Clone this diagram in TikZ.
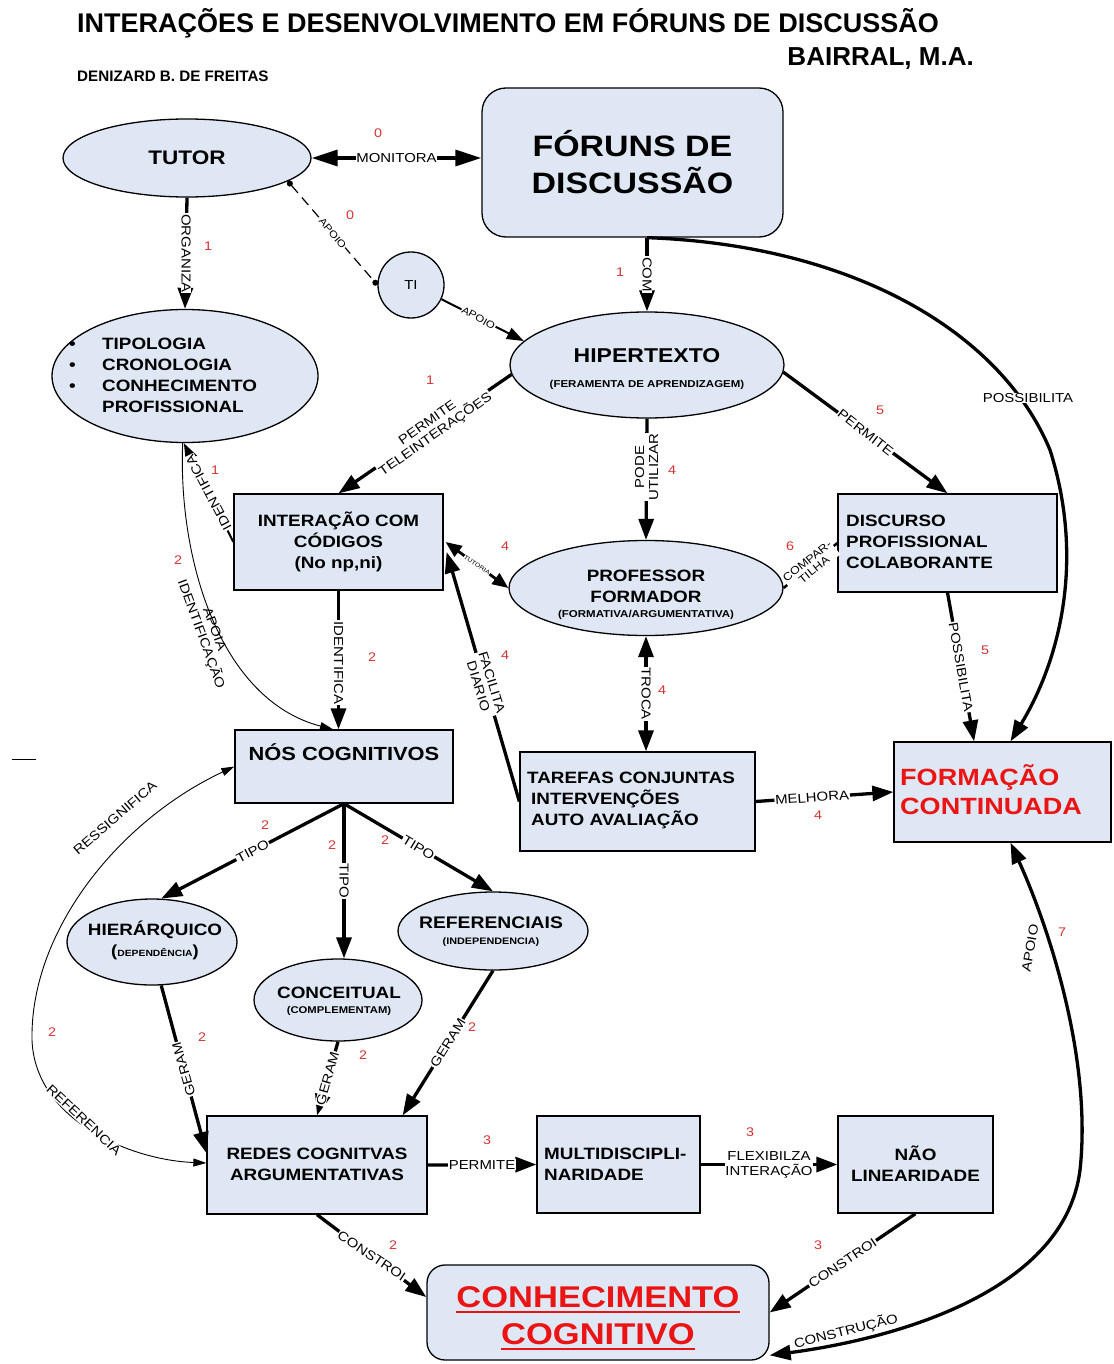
\documentclass[tikz,border=0pt]{standalone}
\usepackage{fontspec}
\setmainfont{Liberation Sans}[FakeStretch=1.15]
\newfontfamily\ttlfont{Liberation Sans}
\usetikzlibrary{arrows.meta,shapes.geometric,calc}
\definecolor{nfill}{RGB}{222,231,243}
\definecolor{numred}{RGB}{214,52,52}
\definecolor{bigred}{RGB}{235,20,20}
\newcommand\myfs[2]{\fontsize{#1}{#2}\selectfont}
\begin{document}
\begin{tikzpicture}[x=1pt,y=-1pt,
  shp/.style={draw=black, fill=nfill, line width=1.3pt, inner sep=0pt},
  box/.style={shp, rectangle},
  ell/.style={shp, ellipse},
  txt/.style={font=\bfseries\myfs{16.4}{21}, align=center, inner sep=0pt},
  ltxt/.style={anchor=base, inner sep=0pt},
  lbl/.style={fill=white, inner sep=0.8pt, font=\myfs{13}{14}, align=center},
  num/.style={text=numred, font=\myfs{12.5}{13}, inner sep=0pt},
  arr/.style={line width=3.3pt, -{Triangle[length=21pt,width=15pt]}},
  darr/.style={line width=3.3pt, {Triangle[length=21pt,width=15pt]}-{Triangle[length=21pt,width=15pt]}},
  marr/.style={line width=2pt, -{Triangle[length=17pt,width=12pt]}},
  tarr/.style={line width=0.9pt, -{Triangle[length=13pt,width=8pt]}},
  tdarr/.style={line width=0.9pt, {Triangle[length=13pt,width=8pt]}-{Triangle[length=13pt,width=8pt]}},
]
\fill[white] (0,0) rectangle (1113,1364);
\useasboundingbox (0,0) rectangle (1113,1364);

% ---------- titles
\node[anchor=base west, font=\ttlfont\bfseries\myfs{27}{28}, inner sep=0pt] (title) at (77,33) {INTERAÇÕES E DESENVOLVIMENTO EM FÓRUNS DE DISCUSSÃO};
\node[anchor=base east, font=\ttlfont\bfseries\myfs{26}{28}, inner sep=0pt] (author) at (974,66) {BAIRRAL, M.A.};
\node[anchor=base west, font=\ttlfont\bfseries\myfs{15.2}{16}, inner sep=0pt] (den) at (77,82) {DENIZARD B. DE FREITAS};
\draw[line width=1pt] (12,759) -- (36,759);

% ---------- shapes
\node[box, rounded corners=24pt, minimum width=301pt, minimum height=149pt] (forum) at (632.5,162.5) {};
\node[ell, minimum width=248pt, minimum height=78pt] (tutor) at (187,158) {};
\node[shp, circle, minimum size=66pt] (ti) at (411,285) {};
\node[ell, minimum width=266pt, minimum height=133pt] (tipo) at (185,376) {};
\node[ell, minimum width=274pt, minimum height=106pt] (hip) at (647,365) {};
\node[box, minimum width=209pt, minimum height=96pt] (inter) at (338.5,542) {};
\node[ell, minimum width=274pt, minimum height=95pt] (prof) at (646,588) {};
\node[box, minimum width=219pt, minimum height=98pt] (disc) at (947.5,543) {};
\node[box, minimum width=218pt, minimum height=73pt] (nos) at (344,766.5) {};
\node[box, minimum width=235pt, minimum height=99pt] (tar) at (637.5,801.5) {};
\node[box, minimum width=217pt, minimum height=100pt] (form) at (1002.5,792) {};
\node[ell, minimum width=170pt, minimum height=86pt] (hier) at (152,942) {};
\node[ell, minimum width=168pt, minimum height=82pt] (conc) at (338,1000) {};
\node[ell, minimum width=190pt, minimum height=78pt] (ref) at (493,931) {};
\node[box, minimum width=220pt, minimum height=98pt] (redes) at (317,1165) {};
\node[box, minimum width=163pt, minimum height=97pt] (multi) at (618.5,1164.5) {};
\node[box, minimum width=155pt, minimum height=97pt] (nao) at (915.5,1164.5) {};
\node[box, rounded corners=18pt, minimum width=342pt, minimum height=95pt] (conh) at (598,1312.5) {};

% ---------- connectors
\draw[line width=3.3pt, {Triangle[length=26pt,width=16pt]}-{Triangle[length=26pt,width=16pt]}] (tutor.east) -- (tutor.east -| forum.west) node[lbl, pos=0.5] (monL) {MONITORA};
\draw[line width=1.2pt, dash pattern=on 10pt off 6pt, {Circle[length=6pt]}-{Circle[length=6pt]}] (tutor.-13) -- (ti.west) node[lbl, pos=0.5, rotate=-50, font=\myfs{10}{10}] (apoio1L) {APOIO};
\draw[marr] (ti.-25) -- (hip.169) node[lbl, pos=0.45, rotate=-29, font=\myfs{10}{10}] (apoio2L) {APOIO};
\draw[arr] (tutor.south) -- (tipo.north) node[lbl, pos=0.5, rotate=-90] (orgL) {ORGANIZA};
\draw[arr] (hip.north |- forum.south) -- (hip.north) node[lbl, pos=0.5, rotate=-90] (comL) {COM};
\draw[arr] (hip.north |- forum.south) .. controls (850,245) and (1000,330) .. (1050,450) .. controls (1085,560) and (1060,660) .. ($(form.north)+(8,0)$);
\node[lbl] (poss1L) at (1028,398) {POSSIBILITA};
\draw[arr] (hip.184) -- (inter.north) node[lbl, pos=0.46, rotate=35] (permL) {PERMITE\\TELEINTERAÇÕES};
\draw[arr] (hip.south) -- (prof.north) node[lbl, pos=0.4, rotate=90] (podeL) {PODE\\UTILIZAR};
\draw[arr] (hip.-3) -- (disc.north) node[lbl, pos=0.5, rotate=-38] (perm2L) {PERMITE};
\draw[marr] (inter.west) -- (tipo.-91) node[lbl, pos=0.5, rotate=118] (ident1L) {IDENTIFICA};
\draw[tarr] (tipo.-92) .. controls (178,560) and (220,700) .. ($(nos.north)+(-11,0)$);
\node[font=\myfs{13}{14}, rotate=-70, align=center, inner sep=0pt] (apoiaL) at (207,632) {APOIA\\IDENTIFICAÇÃO};
\draw[arr] (inter.south) -- (inter.south |- nos.north) node[lbl, pos=0.52, rotate=-90] (ident2L) {IDENTIFICA};
\draw[line width=2.8pt, {Triangle[length=16pt,width=13pt]}-{Triangle[length=16pt,width=13pt]}] ($(inter.east)+(2,0)$) -- (prof.west) node[lbl, pos=0.5, rotate=-34, font=\myfs{6}{6}, inner sep=0.3pt] (tutL) {TUTORIA};
\draw[arr] (tar.west) -- ($(inter.east)+(3,10)$) node[lbl, pos=0.47, rotate=-73] (facL) {FACILITA\\DIARIO};
\draw[darr] (prof.south) -- (prof.south |- tar.north) node[lbl, pos=0.5, rotate=-90] (trocaL) {TROCA};
\draw[line width=2.5pt] (prof.east) -- (disc.west) node[lbl, pos=0.5, rotate=39, font=\myfs{11}{11}] (compL) {COMPAR-\\TILHA};
\draw[arr] (disc.south) -- ($(form.north west)!0.37!(form.north east)$) node[lbl, pos=0.5, rotate=-80] (poss2L) {POSSIBILITA};
\draw[arr] (tar.east) -- (form.west) node[lbl, pos=0.41, rotate=4] (melL) {MELHORA};
\draw[darr] ($(form.south)+(8,0)$) .. controls (1050,930) and (1092,1060) .. (1080,1170) .. controls (1065,1290) and (900,1338) .. (conh.-14);
\node[font=\myfs{13}{14}, rotate=80, inner sep=0pt] (apoioL) at (1030,948) {APOIO};
\node[font=\myfs{13}{14}, rotate=14, inner sep=0pt] (constrL) at (846,1331) {CONSTRUÇÃO};
\draw[arr] (nos.south) -- (hier.78) node[lbl, pos=0.5, rotate=28] (tipo1L) {TIPO};
\draw[arr] (nos.south) -- (nos.south |- conc.north) node[lbl, pos=0.5, rotate=-90] (tipo2L) {TIPO};
\draw[arr] (nos.south) -- (ref.north) node[lbl, pos=0.5, rotate=-31] (tipo3L) {TIPO};
\draw[arr] (hier.-78) -- ($(redes.west)+(0,-12)$) node[lbl, pos=0.5, rotate=106] (geram1L) {GERAM};
\draw[arr] (conc.south) -- (redes.north) node[lbl, pos=0.5, rotate=74] (geram2L) {GERAM};
\draw[arr] (ref.south) -- ($(redes.north east)+(-25,0)$) node[lbl, pos=0.5, rotate=58] (geram3L) {GERAM};
\draw[tdarr] (nos.west) .. controls (120,820) and (30,930) .. (32,1040) .. controls (35,1120) and (130,1160) .. ($(redes.west)+(0,-2)$);
\node[font=\myfs{13}{14}, rotate=41, inner sep=0pt] (ressL) at (115,818) {RESSIGNIFICA};
\node[lbl, rotate=-43] (refL) at (84,1120) {REFERENCIA};
\draw[arr] (redes.east) -- (multi.west) node[lbl, pos=0.5] (perm3L) {PERMITE};
\draw[arr] (multi.east) -- (nao.west) node[lbl, pos=0.5, font=\myfs{13}{15}] (flexL) {FLEXIBILZA\\INTERAÇÃO};
\draw[arr] (redes.south) -- ($(conh.north west)!0.34!(conh.south west)$) node[lbl, pos=0.5, rotate=-34] (constr1L) {CONSTROI};
\draw[arr] (nao.south) -- (conh.east) node[lbl, pos=0.5, rotate=34] (constr2L) {CONSTROI};

% ---------- texts in shapes
\node[txt, font=\bfseries\myfs{29.5}{37}] (forumT) at (forum) {FÓRUNS DE\\DISCUSSÃO};
\node[txt, font=\bfseries\myfs{19.6}{20}] (tutorT) at (tutor) {TUTOR};
\node[font=\myfs{13}{13}, inner sep=0pt] (tiT) at (ti) {TI};
\node[txt, align=left, anchor=west] (tipoT) at (66,375) {\makebox[36pt][l]{\hspace{3pt}•}TIPOLOGIA\\\makebox[36pt][l]{\hspace{3pt}•}CRONOLOGIA\\\makebox[36pt][l]{\hspace{3pt}•}CONHECIMENTO\\\makebox[36pt][l]{}PROFISSIONAL};
\node[ltxt, font=\bfseries\myfs{20}{20}] (hipT) at (647,362) {HIPERTEXTO};
\node[ltxt, font=\bfseries\myfs{10}{10}] (hipS) at (647,387) {(FERAMENTA DE APRENDIZAGEM)};
\node[txt] (interT) at (inter) {INTERAÇÃO COM\\CÓDIGOS\\(No np,ni)};
\node[ltxt, font=\bfseries\myfs{16.4}{16}] (profT1) at (646,581) {PROFESSOR};
\node[ltxt, font=\bfseries\myfs{16.4}{16}] (profT2) at (646,602) {FORMADOR};
\node[ltxt, font=\bfseries\myfs{10}{10}] (profS) at (646,617) {(FORMATIVA/ARGUMENTATIVA)};
\node[txt, anchor=west, align=left] (discT) at (846,542) {DISCURSO\\PROFISSIONAL\\COLABORANTE};
\node[txt, font=\bfseries\myfs{19}{19}] (nosT) at (344,752) {NÓS COGNITIVOS};
\node[txt, anchor=west, align=left] (tarT) at (527,800) {TAREFAS CONJUNTAS\\\hspace*{4pt}INTERVENÇÕES\\\hspace*{4pt}AUTO AVALIAÇÃO};
\node[txt, anchor=west, align=left, text=bigred, font=\bfseries\myfs{23.5}{29}] (formT) at (900,790) {FORMAÇÃO\\CONTINUADA};
\node[ltxt, font=\bfseries\myfs{16.4}{16}] (hierT) at (155,935) {HIERÁRQUICO};
\node[ltxt, font=\bfseries] (hierS) at (155,956) {{\myfs{16}{16}(}{\myfs{9}{9}DEPENDÊNCIA}{\myfs{16}{16})}};
\node[ltxt, font=\bfseries\myfs{16.4}{16}] (concT) at (339,998) {CONCEITUAL};
\node[ltxt, font=\bfseries\myfs{9.8}{10}] (concS) at (339,1013) {(COMPLEMENTAM)};
\node[ltxt, font=\bfseries\myfs{16.8}{16}] (refT) at (491,928) {REFERENCIAIS};
\node[ltxt, font=\bfseries\myfs{9.4}{10}] (refS) at (491,944) {(INDEPENDENCIA)};
\node[txt] (redesT) at (317,1164) {REDES COGNITVAS\\ARGUMENTATIVAS};
\node[txt, anchor=west, align=left] (multiT) at (544,1164) {MULTIDISCIPLI-\\NARIDADE};
\node[txt] (naoT) at (915.5,1164) {NÃO\\LINEARIDADE};
\node[ltxt, text=bigred, font=\bfseries\myfs{30}{30}] (conhT1) at (598,1307) {CONHECIMENTO};
\node[ltxt, text=bigred, font=\bfseries\myfs{30}{30}] (conhT2) at (598,1344) {COGNITIVO};
\draw[bigred, line width=2.6pt] ($(conhT1.base west)+(0,5)$) -- ($(conhT1.base east)+(0,5)$);
\draw[bigred, line width=2.6pt] ($(conhT2.base west)+(0,5)$) -- ($(conhT2.base east)+(0,5)$);

% ---------- red numbers
\node[num] (n01) at (378,133) {0};
\node[num] (n02) at (350,215) {0};
\node[num] (n03) at (208,246) {1};
\node[num] (n04) at (620,272) {1};
\node[num] (n05) at (430,380) {1};
\node[num] (n06) at (215,470) {1};
\node[num] (n07) at (880,410) {5};
\node[num] (n08) at (672,470) {4};
\node[num] (n09) at (178,560) {2};
\node[num] (n10) at (505,546) {4};
\node[num] (n11) at (790,546) {6};
\node[num] (n12) at (372,657) {2};
\node[num] (n13) at (505,655) {4};
\node[num] (n14) at (662,690) {4};
\node[num] (n15) at (985,650) {5};
\node[num] (n16) at (818,815) {4};
\node[num] (n17) at (265,825) {2};
\node[num] (n18) at (332,845) {2};
\node[num] (n19) at (385,840) {2};
\node[num] (n20) at (1062,932) {7};
\node[num] (n21) at (52,1032) {2};
\node[num] (n22) at (202,1037) {2};
\node[num] (n23) at (363,1055) {2};
\node[num] (n24) at (472,1027) {2};
\node[num] (n25) at (487,1140) {3};
\node[num] (n26) at (750,1132) {3};
\node[num] (n27) at (393,1245) {2};
\node[num] (n28) at (818,1245) {3};
\end{tikzpicture}
\end{document}
